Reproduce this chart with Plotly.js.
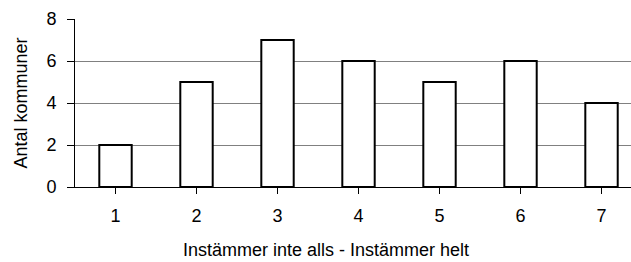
<!DOCTYPE html>
<html>
<head>
<meta charset="utf-8">
<script src="https://cdn.plot.ly/plotly-3.0.1.min.js"></script>
<style>html,body{margin:0;padding:0;overflow:hidden;background:#fff}</style>
</head>
<body>
<div id="chart" style="width:631px;height:262px"></div>
<script>
const categories = [1, 2, 3, 4, 5, 6, 7];
const values = [2, 5, 7, 6, 5, 6, 4];
const yTicks = [0, 2, 4, 6, 8];
const xTitle = "Instämmer inte alls - Instämmer helt";
const yTitle = "Antal kommuner";

const font = "Liberation Sans, Arial, sans-serif";
Plotly.newPlot("chart", [{
  type: "bar",
  x: categories,
  y: values,
  marker: {color: "#ffffff", line: {color: "#000000", width: 2}},
  hoverinfo: "none"
}], {
  width: 631, height: 262,
  margin: {l: 75, r: 0, t: 19, b: 75},
  paper_bgcolor: "#ffffff", plot_bgcolor: "#ffffff",
  bargap: 0.6,
  showlegend: false,
  font: {family: font, color: "#000", size: 18},
  xaxis: {
    range: [0.5, 7.364],
    tickmode: "array", tickvals: categories, ticktext: categories.map(String),
    ticks: "outside", tickson: "boundaries", ticklen: 6, tickcolor: "#000", tickwidth: 1,
    ticklabelstandoff: 6,
    showline: true, linecolor: "#000", linewidth: 1,
    showgrid: false, zeroline: false,
    tickfont: {size: 18}
  },
  yaxis: {
    range: [0, 8],
    tickmode: "array", tickvals: yTicks,
    ticks: "outside", ticklen: 7, tickcolor: "#000", tickwidth: 1,
    ticklabelstandoff: 7,
    showline: true, linecolor: "#000", linewidth: 1,
    showgrid: true, gridcolor: "#808080", gridwidth: 1,
    zeroline: false,
    tickfont: {size: 18},
    title: {text: yTitle, font: {size: 18}, standoff: 14}
  },
  annotations: [{
    text: xTitle, xref: "paper", yref: "paper",
    x: (326 - 75) / 556, y: -(250 - 187) / 168,
    xanchor: "center", yanchor: "middle", showarrow: false,
    font: {size: 18}
  }]
}, {displayModeBar: false, staticPlot: true});
</script>
</body>
</html>
